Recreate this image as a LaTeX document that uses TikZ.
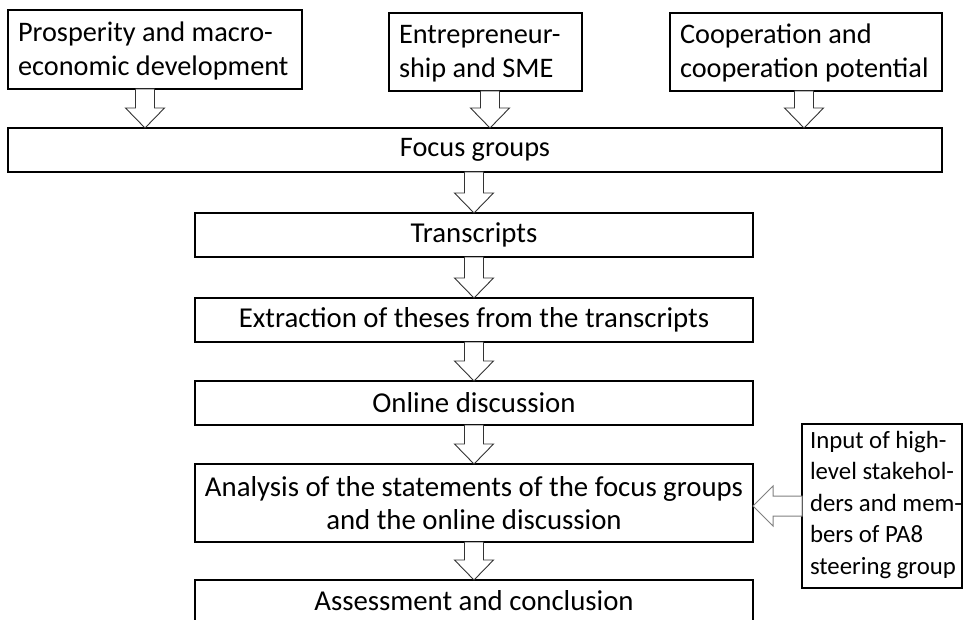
\documentclass[tikz,border=0pt]{standalone}
\usepackage{fontspec}
\setmainfont{Carlito}
\usetikzlibrary{calc}
\newcommand{\mysizeA}{\fontsize{28.8}{33.5}\selectfont}
\newcommand{\mysizeT}{\fontsize{28.3}{34}\selectfont}
\newcommand{\mysizeB}{\fontsize{24.8}{31.5}\selectfont}
\newcommand{\varrowblk}[2]{%
  \filldraw[barrow] let \p1=(#1), \p2=(#2) in
   (\x1-9.5pt,\y1) -- (\x1-9.5pt,\y2+20pt) -- (\x1-19.5pt,\y2+20pt) -- (\x1,\y2)
   -- (\x1+19.5pt,\y2+20pt) -- (\x1+9.5pt,\y2+20pt) -- (\x1+9.5pt,\y1) -- cycle;}
\newcommand{\harrowblk}[2]{%
  \filldraw[garrow] let \p1=(#1), \p2=(#2) in
   (\x1,\y1+10pt) -- (\x2+20pt,\y1+10pt) -- (\x2+20pt,\y1+20pt) -- (\x2,\y1)
   -- (\x2+20pt,\y1-20pt) -- (\x2+20pt,\y1-10pt) -- (\x1,\y1-10pt) -- cycle;}
\tikzset{
  box/.style={draw=black, line width=1.2pt, fill=white, inner sep=0pt, outer sep=0pt,
              anchor=north west, font=\mysizeA},
  txt/.style={inner sep=0pt, outer sep=0pt, align=left, anchor=north west},
  barrow/.style={draw=black!80, line width=0.9pt, fill=white, line join=miter},
  garrow/.style={draw=black!50, line width=1pt, fill=white, line join=miter}
}
\begin{document}
\begin{tikzpicture}[x=1pt,y=-1pt]
\useasboundingbox (0,0) rectangle (965,620);
\clip (0,0) rectangle (965,620);
\fill[white] (0,0) rectangle (965,620);

% top boxes
\node[box, minimum width=294, minimum height=79] (b1) at (8,10) {};
\node[txt, font=\mysizeT] (b1t) at ($(b1.north west)+(10,12)$) {\rule{0pt}{20pt}Prosperity and macro-\\economic development};
\node[box, minimum width=193, minimum height=78] (b2) at (389,13) {};
\node[txt, font=\mysizeT] (b2t) at ($(b2.north west)+(10,10.3)$) {\rule{0pt}{20pt}Entrepreneur-\\ship and SME};
\node[box, minimum width=272, minimum height=78] (b3) at (670,13) {};
\node[txt, font=\mysizeT] (b3t) at ($(b3.north west)+(10,10.3)$) {\rule{0pt}{20pt}Cooperation and\\cooperation potential};

% main column
\node[box, font=\mysizeT, minimum width=934, minimum height=44] (focus) at (8,128) {Focus groups};
\node[box, minimum width=558, minimum height=44] (trans) at (195,213) {Transcripts};
\node[box, minimum width=558, minimum height=44] (extr) at (195,298) {Extraction of theses from the transcripts};
\node[box, minimum width=558, minimum height=44] (online) at (195,381) {Online discussion};
\node[box, minimum width=558, minimum height=78, align=center] (anal) at (195,464) {Analysis of the statements of the focus groups\\and the online discussion};
\node[box, minimum width=558, minimum height=42] (assess) at (195,580) {Assessment and conclusion};

% side box
\node[box, minimum width=160, minimum height=164] (inp) at (802,424) {};
\node[txt, font=\mysizeB] (inpt) at ($(inp.north west)+(8,5)$) {\rule{0pt}{19pt}Input of high-\\level stakehol-\\ders and mem-\\bers of PA8\\steering group};

% block arrows
\varrowblk{$(b1.south)+(-10,0)$}{focus.north}
\varrowblk{$(b2.south)+(4.5,0)$}{focus.north}
\varrowblk{$(b3.south)+(-2,0)$}{focus.north}
\varrowblk{$(focus.south)+(-1,0)$}{trans.north}
\varrowblk{trans.south}{extr.north}
\varrowblk{extr.south}{online.north}
\varrowblk{online.south}{anal.north}
\varrowblk{anal.south}{assess.north}
\harrowblk{$(inp.west)+(0,0)$}{anal.east}
\end{tikzpicture}
\end{document}
